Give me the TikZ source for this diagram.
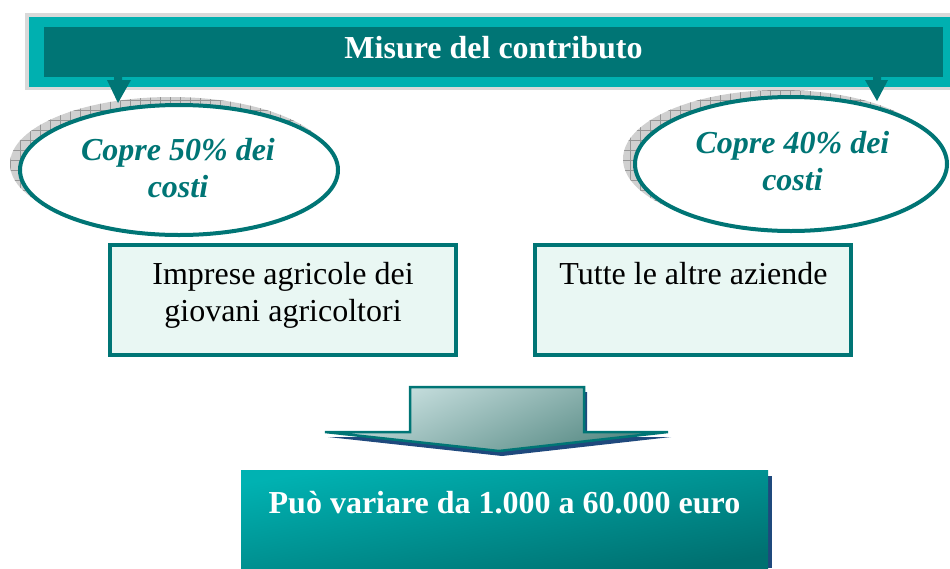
\documentclass[tikz,border=0pt]{standalone}
\usepackage{fontspec}
\setmainfont{Liberation Serif}
\usetikzlibrary{shapes.geometric,calc}
\definecolor{tealD}{RGB}{0,117,117}
\definecolor{cyanM}{RGB}{0,176,176}
\definecolor{grayB}{RGB}{217,217,217}
\definecolor{mint}{RGB}{233,247,243}
\definecolor{navyS}{RGB}{31,73,125}
\definecolor{arrLight}{RGB}{206,228,228}
\definecolor{arrDark}{RGB}{84,136,130}
\definecolor{boxTop}{RGB}{0,178,178}
\definecolor{boxBot}{RGB}{0,112,112}
\definecolor{shadowG}{RGB}{208,208,208}
\definecolor{shadowL}{RGB}{150,150,150}
\begin{document}
\begin{tikzpicture}[x=1pt,y=-1pt,
  headtxt/.style={font=\bfseries\fontsize{32}{37}\selectfont, text=white, inner sep=0pt, anchor=base},
  elltxt/.style={font=\bfseries\itshape\fontsize{32}{37}\selectfont, text=tealD, inner sep=0pt, align=center},
  boxtxt/.style={font=\fontsize{32}{37}\selectfont, text=black, inner sep=0pt, align=center},
  ellbox/.style={ellipse, draw=tealD, line width=4pt, fill=white, inner sep=0pt},
  catbox/.style={rectangle, draw=tealD, line width=4pt, fill=mint, inner sep=0pt},
  pointer/.style={fill=tealD},
]
\useasboundingbox (0,0) rectangle (950,568);

% header band
\fill[grayB] (25,13) rectangle (955,90);
\fill[cyanM] (29,17) rectangle (952,87);
\node[fill=tealD, minimum width=899pt, minimum height=50pt, inner sep=0pt] (head) at (493.5,52) {};
\node[headtxt] (headt) at (493.5,58) {Misure del contributo};

% shadows of ellipses (hatched)
\begin{scope}
  \clip (171,164) ellipse [x radius=161, y radius=67];
  \fill[shadowG] (0,80) rectangle (360,250);
  \draw[shadowL, line width=0.35pt, step=10pt] (0,80) grid (360,250);
\end{scope}
\begin{scope}
  \clip (781,159) ellipse [x radius=158, y radius=69];
  \fill[shadowG] (600,80) rectangle (960,250);
  \draw[shadowL, line width=0.35pt, step=10pt] (600,80) grid (960,250);
\end{scope}

% ellipses
\node[ellbox, minimum width=318pt, minimum height=130pt] (e1) at (179,170) {};
\node[ellbox, minimum width=312pt, minimum height=134pt] (e2) at (791,164) {};
\node[elltxt] (e1t) at (178,167.7) {Copre 50\% dei\\costi};
\node[elltxt] (e2t) at (792.5,160.7) {Copre 40\% dei\\costi};

% pointers from header to ellipses
\fill[pointer] (114,77) -- (122,77) -- (122,80) -- (131,80) -- (118,103) -- (107,80) -- (114,80) -- cycle;
\fill[pointer] (873,77) -- (881,77) -- (881,80) -- (888,80) -- (877,101) -- (865,80) -- (873,80) -- cycle;

% category boxes
\node[catbox, minimum width=346pt, minimum height=110pt] (b1) at (283,300) {};
\node[catbox, minimum width=316pt, minimum height=110pt] (b2) at (693,300) {};
\node[boxtxt] (b1t) at (283,295) {Imprese agricole dei\\giovani agricoltori};
\node[boxtxt, anchor=base] (b2t) at (693.5,284) {Tutte le altre aziende};

% big down arrow
\fill[navyS] (413,392) -- (587,392) -- (587,437) -- (671,437) -- (502,456) -- (328,437) -- (413,437) -- cycle;
\shade[top color=arrLight, bottom color=arrDark, shading angle=25]
  (410,387) -- (584,387) -- (584,432) -- (668,432) -- (499,451) -- (325,432) -- (410,432) -- cycle;
\draw[tealD, line width=2.5pt, line join=miter]
  (410,387) -- (584,387) -- (584,432) -- (668,432) -- (499,451) -- (325,432) -- (410,432) -- cycle;

% result box
\fill[navyS] (760,476) rectangle (772,568);
\node[rectangle, inner sep=0pt, minimum width=527pt, minimum height=98pt,
      top color=boxTop, bottom color=boxBot, shading angle=10] (res) at (504.5,519) {};
\node[headtxt] (rest) at (504.5,513) {Può variare da 1.000 a 60.000 euro};
\end{tikzpicture}
\end{document}
